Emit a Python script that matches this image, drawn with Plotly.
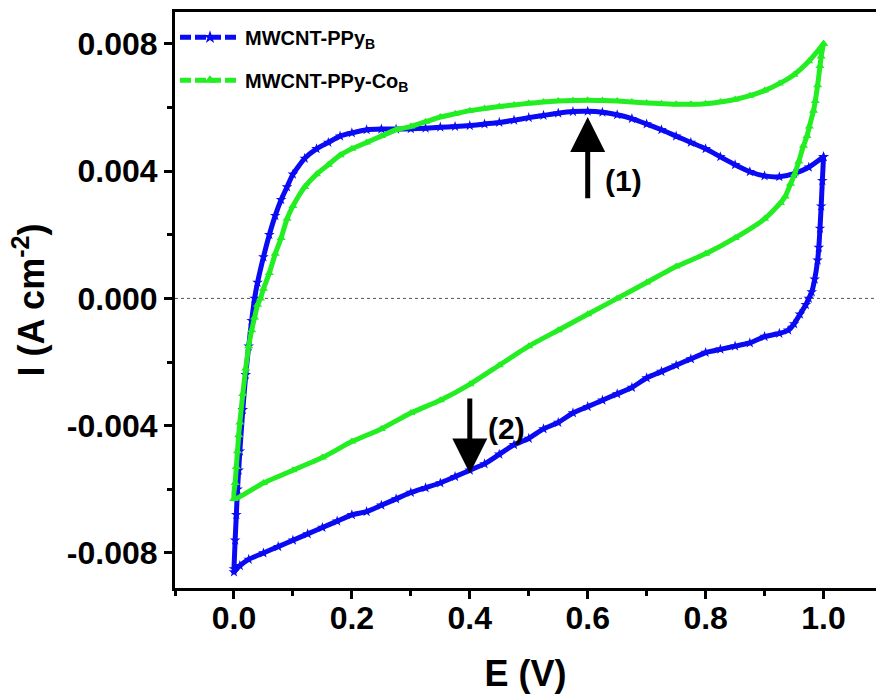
import plotly.graph_objects as go

# ---------------- data ----------------
blue_fwd_E = [0.000, 0.002, 0.004, 0.006, 0.008, 0.010, 0.015, 0.020, 0.025, 0.030, 0.035, 0.040,
              0.050, 0.060, 0.070, 0.080, 0.090, 0.100, 0.120, 0.140, 0.160, 0.180, 0.200, 0.225,
              0.250, 0.275, 0.300, 0.325, 0.350, 0.375, 0.400, 0.425, 0.450, 0.475, 0.500, 0.525,
              0.550, 0.575, 0.600, 0.625, 0.650, 0.675, 0.700, 0.725, 0.750, 0.775, 0.800, 0.825,
              0.850, 0.875, 0.900, 0.925, 0.950, 0.975, 1.000]
blue_fwd_I = [-0.0085, -0.0076, -0.0068, -0.0060, -0.0054, -0.0048, -0.0035, -0.0024, -0.0015, -0.0007, 0.0000, 0.0005,
              0.0013, 0.0020, 0.0026, 0.0031, 0.0035, 0.0039, 0.0044, 0.0047, 0.0049, 0.0051, 0.00520, 0.0053,
              0.00532, 0.00532, 0.00533, 0.00535, 0.00538, 0.0054, 0.00543, 0.00548, 0.00553, 0.0056, 0.00568, 0.00575,
              0.00582, 0.00587, 0.00588, 0.00585, 0.00577, 0.00565, 0.00548, 0.0053, 0.0051, 0.0049, 0.0047, 0.00445,
              0.0042, 0.00398, 0.00385, 0.00382, 0.00392, 0.00412, 0.00445]
blue_rev_E = [1.000, 0.998, 0.996, 0.994, 0.992, 0.990, 0.985, 0.980, 0.975, 0.970, 0.960, 0.950,
              0.940, 0.925, 0.900, 0.875, 0.850, 0.825, 0.800, 0.775, 0.750, 0.725, 0.700, 0.675,
              0.650, 0.625, 0.600, 0.575, 0.550, 0.525, 0.500, 0.475, 0.450, 0.425, 0.400, 0.375,
              0.350, 0.325, 0.300, 0.275, 0.250, 0.225, 0.200, 0.175, 0.150, 0.125, 0.100, 0.075,
              0.050, 0.025, 0.010, 0.000]
blue_rev_I = [0.00445, 0.0037, 0.0029, 0.0022, 0.0016, 0.0012, 0.0006, 0.0002, 0.0000, -0.0002, -0.0005, -0.0008,
              -0.0010, -0.0011, -0.0012, -0.0014, -0.0015, -0.0016, -0.0017, -0.0019, -0.0021, -0.0023, -0.0025, -0.0028,
              -0.0030, -0.0032, -0.0034, -0.0036, -0.0039, -0.0041, -0.0044, -0.0046, -0.0049, -0.0052, -0.0054, -0.0056,
              -0.0058, -0.00595, -0.0061, -0.0063, -0.0065, -0.0067, -0.0068, -0.0070, -0.0072, -0.0074, -0.0076, -0.0078,
              -0.0080, -0.0082, -0.0084, -0.0086]

green_fwd_E = [0.000, 0.002, 0.004, 0.006, 0.008, 0.010, 0.015, 0.020, 0.025, 0.030, 0.035, 0.040, 0.045,
               0.050, 0.060, 0.070, 0.080, 0.090, 0.100, 0.120, 0.140, 0.160, 0.180, 0.200, 0.225,
               0.250, 0.275, 0.300, 0.325, 0.350, 0.375, 0.400, 0.425, 0.450, 0.475, 0.500, 0.525,
               0.550, 0.575, 0.600, 0.625, 0.650, 0.675, 0.700, 0.725, 0.750, 0.775, 0.800, 0.825,
               0.850, 0.875, 0.900, 0.925, 0.950, 0.975, 1.000]
green_fwd_I = [-0.0063, -0.0058, -0.0053, -0.0048, -0.0043, -0.0039, -0.0030, -0.0022, -0.0015, -0.0010, -0.0006, -0.0002, 0.0000,
               0.0003, 0.0008, 0.0014, 0.0019, 0.0025, 0.0029, 0.0035, 0.0039, 0.0042, 0.0045, 0.0047, 0.0049,
               0.0051, 0.0053, 0.0054, 0.00555, 0.0057, 0.0058, 0.0059, 0.00597, 0.00603, 0.00608, 0.00613, 0.00617,
               0.0062, 0.00622, 0.00623, 0.00622, 0.0062, 0.00617, 0.00614, 0.00612, 0.0061, 0.0061, 0.00612, 0.00617,
               0.00625, 0.00637, 0.00653, 0.00675, 0.00703, 0.00745, 0.0080]
green_rev_E = [1.000, 0.996, 0.994, 0.990, 0.986, 0.983, 0.976, 0.972, 0.966, 0.958, 0.951, 0.944, 0.935,
               0.927, 0.900, 0.850, 0.800, 0.750, 0.700, 0.650, 0.600, 0.550, 0.500, 0.450, 0.400,
               0.350, 0.300, 0.250, 0.200, 0.150, 0.100, 0.050, 0.000]
green_rev_I = [0.0080, 0.0076, 0.0073, 0.0067, 0.0062, 0.0059, 0.0054, 0.0051, 0.0048, 0.0043, 0.0039, 0.0036, 0.0032,
               0.0030, 0.0025, 0.0019, 0.0014, 0.0010, 0.0005, 0.0000, -0.0005, -0.0010, -0.0015, -0.0021, -0.0027,
               -0.0032, -0.0036, -0.0041, -0.0045, -0.0050, -0.0054, -0.0058, -0.0063]

series_names = ["MWCNT-PPy<sub>B</sub>", "MWCNT-PPy-Co<sub>B</sub>"]
series_colors = ["#0a0af5", "#22ee22"]
series_symbols = ["star", "triangle-up"]

x_tickvals = [0.0, 0.2, 0.4, 0.6, 0.8, 1.0]
x_ticktext = ["0.0", "0.2", "0.4", "0.6", "0.8", "1.0"]
y_tickvals = [-0.008, -0.004, 0.0, 0.004, 0.008]
y_ticktext = ["-0.008", "-0.004", "0.000", "0.004", "0.008"]

# arrows: (E, I_tail, I_head) and labels
arrow1 = dict(E=0.6, tail=0.0031, head=0.0057, label="(1)", lx=0.66, ly=0.0037)
arrow2 = dict(E=0.40, tail=-0.0031, head=-0.0055, label="(2)", lx=0.462, ly=-0.0041)

FONT = "Liberation Sans, Arial, sans-serif"

fig = go.Figure()

curves = [
    (blue_fwd_E + blue_rev_E, blue_fwd_I + blue_rev_I),
    (green_fwd_E + green_rev_E, green_fwd_I + green_rev_I),
]
for i, (xs, ys) in enumerate(curves):
    fig.add_trace(go.Scatter(
        x=xs, y=ys, mode="lines+markers",
        line=dict(color=series_colors[i], width=5, shape="spline", smoothing=0.5),
        marker=dict(symbol=series_symbols[i], size=8, color=series_colors[i], line=dict(width=0)),
        showlegend=False, hoverinfo="skip",
    ))
# legend entries (dashed line with marker, as in the reference)
for i in range(2):
    fig.add_trace(go.Scatter(
        x=[None], y=[None], mode="lines+markers", name=series_names[i],
        line=dict(color=series_colors[i], width=5, dash="11px,4px"),
        marker=dict(symbol=series_symbols[i], size=10, color=series_colors[i]),
        legendgroup=str(i),
    ))

# dotted zero line
fig.add_shape(type="line", xref="paper", x0=0, x1=1, yref="y", y0=0, y1=0,
              line=dict(color="#555555", width=1, dash="dot"), layer="below")

for a in (arrow1, arrow2):
    fig.add_annotation(x=a["E"], y=a["head"], ax=a["E"], ay=a["tail"],
                       xref="x", yref="y", axref="x", ayref="y",
                       text="", showarrow=True, arrowhead=2, arrowsize=1.4,
                       arrowwidth=5, arrowcolor="black")
    fig.add_annotation(x=a["lx"], y=a["ly"], xref="x", yref="y", text="<b>%s</b>" % a["label"],
                       showarrow=False, font=dict(family=FONT, size=30, color="black"))

axis_common = dict(
    showline=True, linecolor="black", linewidth=3,
    ticks="outside", ticklen=8, tickwidth=3, tickcolor="black",
    showgrid=False, zeroline=False,
    tickfont=dict(family=FONT, size=32, color="black", weight="bold"),
)

fig.update_layout(
    width=876, height=694,
    margin=dict(l=175, r=0, t=12, b=106),
    paper_bgcolor="white", plot_bgcolor="white",
    font=dict(family=FONT, color="black"),
    xaxis=dict(range=[-0.1, 1.089], tickvals=x_tickvals, ticktext=x_ticktext, mirror=True,
               ticklabelstandoff=-8,
               minor=dict(dtick=0.1, tick0=0, ticks="outside", ticklen=5, tickwidth=3, tickcolor="black"),
               title=dict(text="<b>E (V)</b>", font=dict(family=FONT, size=36), standoff=26),
               **axis_common),
    yaxis=dict(range=[-0.0091, 0.009], tickvals=y_tickvals, ticktext=y_ticktext, mirror=False,
               minor=dict(dtick=0.002, tick0=0, ticks="outside", ticklen=5, tickwidth=3, tickcolor="black"),
               title=dict(text="<b>I (A cm<sup>-2</sup>)</b>", font=dict(family=FONT, size=36), standoff=12),
               **axis_common),
    legend=dict(x=0.0, y=0.99, xanchor="left", yanchor="top", bgcolor="rgba(0,0,0,0)",
                font=dict(family=FONT, size=20, color="black", weight="bold"),
                itemwidth=60, tracegroupgap=14),
)

fig.write_html("out.html")
